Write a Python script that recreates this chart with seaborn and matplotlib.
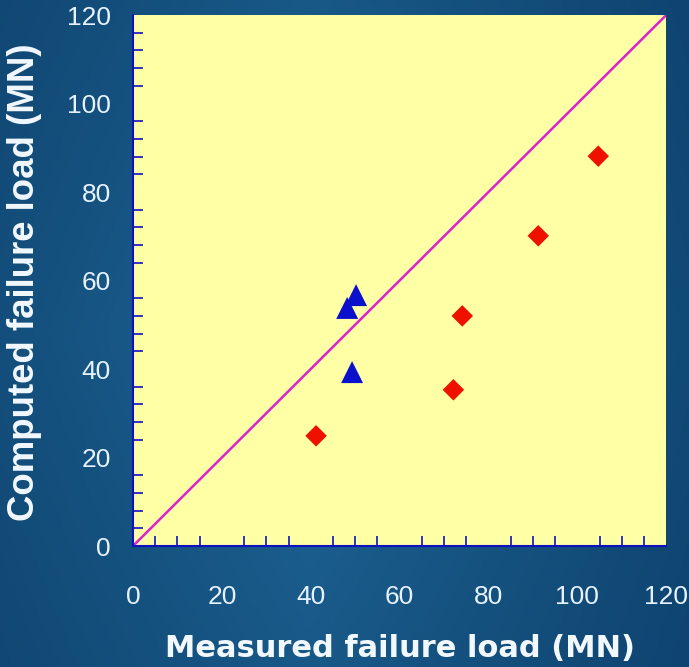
import matplotlib
matplotlib.use("Agg")
import matplotlib.pyplot as plt
import seaborn as sns
import pandas as pd
import numpy as np
from matplotlib.ticker import MultipleLocator
from matplotlib.colors import LinearSegmentedColormap

# Data
red_measured = [41.2, 72.1, 74.1, 91.2, 104.7]
red_computed = [24.9, 35.3, 52.0, 70.1, 88.1]
blue_measured = [50.2, 48.2, 49.3]
blue_computed = [56.7, 53.8, 39.3]
diag = [0, 120]
x_ticks = [0, 20, 40, 60, 80, 100, 120]
y_ticks = [0, 20, 40, 60, 80, 100, 120]

df = pd.DataFrame({
    "measured": red_measured + blue_measured,
    "computed": red_computed + blue_computed,
    "group": ["red"] * len(red_measured) + ["blue"] * len(blue_measured),
})

sns.set_style("white")
plt.rcParams["font.family"] = ["Liberation Sans", "DejaVu Sans"]

fig = plt.figure(figsize=(6.89, 6.67), dpi=100)
fig.patch.set_facecolor("#1A5A87")

# subtle background gradient
bgax = fig.add_axes([0, 0, 1, 1], zorder=-10)
yy, xx = np.mgrid[0:1:200j, 0:1:200j]
grad = (1 - np.abs(xx - 0.45)) * (1 - 0.5 * np.abs(yy - 0.5))
cmap = LinearSegmentedColormap.from_list("bg", ["#0F4470", "#1E6596"])
bgax.imshow(grad, cmap=cmap, aspect="auto", extent=[0, 1, 0, 1])
bgax.axis("off")

ax = fig.add_axes([0.193, 0.1814, 0.774, 0.7961])
ax.set_facecolor("#FFFFA6")

ax.plot(diag, diag, color="#DD22CC", lw=1.8, zorder=2)

sns.scatterplot(data=df, x="measured", y="computed", hue="group", style="group",
                size="group",
                palette={"red": "#EE1100", "blue": "#0A10CC"},
                markers={"red": "D", "blue": "^"},
                sizes={"red": 120, "blue": 250},
                edgecolor="none", legend=False, ax=ax, zorder=3)
ax.set_xlim(0, 120)
ax.set_ylim(0, 120)
ax.set_xticks(x_ticks)
ax.set_yticks(y_ticks)
ax.xaxis.set_minor_locator(MultipleLocator(5))
ax.yaxis.set_minor_locator(MultipleLocator(4))

for s in ["top", "right"]:
    ax.spines[s].set_visible(False)
for s in ["left", "bottom"]:
    ax.spines[s].set_color("#1010C0")
    ax.spines[s].set_linewidth(1.5)

ax.tick_params(axis="both", which="major", direction="inout", length=16, width=1.3,
               color="#1010C0", labelcolor="#E6F2FF", labelsize=19)
ax.tick_params(axis="x", which="major", pad=20)
ax.tick_params(axis="y", which="major", pad=8)
ax.tick_params(axis="both", which="minor", direction="in", length=7, width=1.2,
               color="#1010C0", bottom=True, left=True)

ax.set_xlabel("Measured failure load (MN)", fontsize=22, fontweight="bold",
              color="#F2F8FF", family=["DejaVu Sans"])
ax.xaxis.set_label_coords(0.5, -0.166)
ax.set_ylabel("Computed failure load (MN)", fontsize=26.4, fontweight="bold",
              color="#F2F8FF")
ax.yaxis.set_label_coords(-0.171, 0.497)

fig.savefig("out.png", dpi=100, facecolor=fig.get_facecolor())
